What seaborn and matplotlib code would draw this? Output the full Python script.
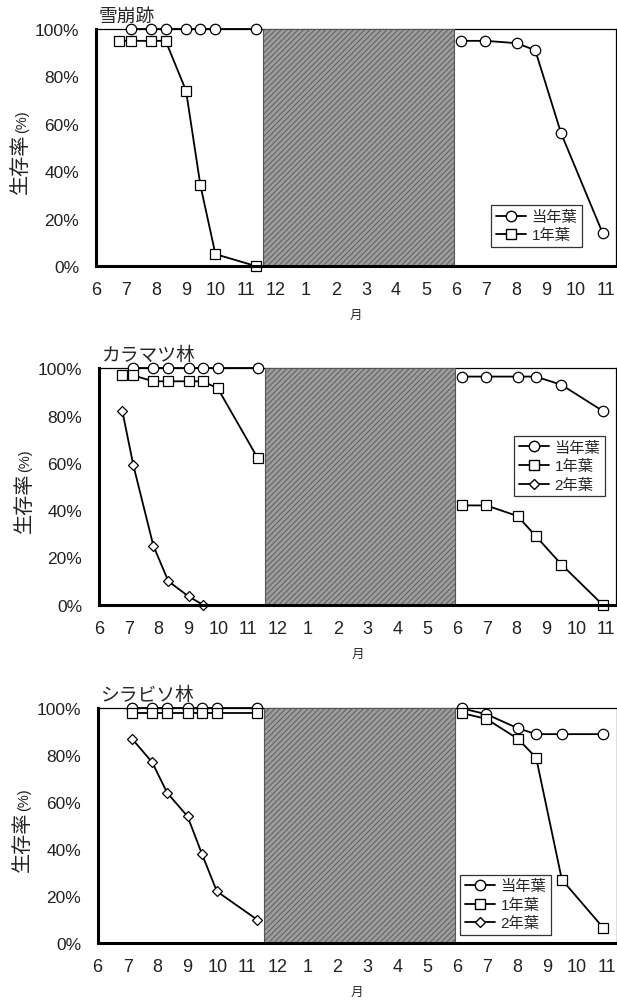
import numpy as np
import pandas as pd
import matplotlib
matplotlib.use('Agg')
import matplotlib.pyplot as plt
from matplotlib.lines import Line2D
import seaborn as sns

# --- data (x = months after the start of June, year 1) ---
month_labels = ['6', '7', '8', '9', '10', '11', '12', '1', '2', '3', '4', '5',
                '6', '7', '8', '9', '10', '11']
x_first = [0.78, 1.15, 1.82, 2.32, 3.0, 3.48, 3.98, 5.32]
x_second = [12.15, 12.98, 14.03, 14.64, 15.5, 16.88]

# 雪崩跡
a_cur_1 = [np.nan, 100, 100, 100, 100, 100, 100, 100]
a_y1_1 = [95, 95, 95, 95, 74, 34, 5, 0]
a_cur_2 = [95, 95, 94, 91, 56, 14]

# カラマツ林
b_cur_1 = [np.nan, 100, 100, 100, 100, 100, 100, 100]
b_y1_1 = [97, 97, 94.5, 94.5, 94.5, 94.5, 91.5, 62]
b_y2_1 = [82, 59, 25, 10, 3.5, 0, np.nan, np.nan]
b_cur_2 = [96.5, 96.5, 96.5, 96.5, 93, 82]
b_y1_2 = [42, 42, 37.5, 29, 17, 0]

# シラビソ林
c_cur_1 = [np.nan, 100, 100, 100, 100, 100, 100, 100]
c_y1_1 = [np.nan, 98, 98, 98, 98, 98, 98, 98]
c_y2_1 = [np.nan, 87, 77, 64, 54, 38, 22, 10]
c_cur_2 = [100, 97.5, 91.5, 89, 89, 89]
c_y1_2 = [98, 95.5, 87, 79, 27, 6.5]

series_names = ['当年葉', '1年葉', '2年葉']
series_markers = {'当年葉': 'o', '1年葉': 's', '2年葉': 'D'}
series_sizes = {'当年葉': 7.5, '1年葉': 7.5, '2年葉': 5.2}


def to_long(parts):
    rows = []
    for name, seg, xs, ys in parts:
        for x, y in zip(xs, ys):
            if not np.isnan(y):
                rows.append({'month': x, 'rate': y, 'series': name, 'seg': seg})
    return pd.DataFrame(rows)


panels = [
    ('雪崩跡', [0.1556, 0.7338, 0.8428, 0.2363], 2,
     [('当年葉', 0, x_first, a_cur_1), ('1年葉', 1, x_first, a_y1_1),
      ('当年葉', 2, x_second, a_cur_2)],
     (0.76, 0.08)),
    ('カラマツ林', [0.1605, 0.3961, 0.8380, 0.2357], 3,
     [('当年葉', 0, x_first, b_cur_1), ('1年葉', 1, x_first, b_y1_1),
      ('2年葉', 3, x_first, b_y2_1), ('当年葉', 2, x_second, b_cur_2),
      ('1年葉', 4, x_second, b_y1_2)],
     (0.803, 0.458)),
    ('シラビソ林', [0.1583, 0.0588, 0.8412, 0.2340], 3,
     [('当年葉', 0, x_first, c_cur_1), ('1年葉', 1, x_first, c_y1_1),
      ('2年葉', 3, x_first, c_y2_1), ('当年葉', 2, x_second, c_cur_2),
      ('1年葉', 4, x_second, c_y1_2)],
     (0.698, 0.034)),
]

sns.set_style('white')
plt.rcParams['font.family'] = ['Liberation Sans', 'Noto Sans CJK JP']
plt.rcParams['hatch.linewidth'] = 0.6
plt.rcParams['hatch.color'] = '#444444'

fig = plt.figure(figsize=(6.17, 10.03), dpi=100)

for title, rect, n_leg, parts, leg_pos in panels:
    ax = fig.add_axes(rect)
    df = to_long(parts)
    used = [s for s in series_names if s in df['series'].unique()]
    for s in used:
        sub = df[df['series'] == s]
        sns.lineplot(data=sub, x='month', y='rate', units='seg', estimator=None,
                     color='black', marker=series_markers[s], markersize=series_sizes[s],
                     markerfacecolor='white', markeredgecolor='black', markeredgewidth=0.9,
                     linewidth=1.3, clip_on=False, legend=False, ax=ax, zorder=3)

    # winter (no observation) period
    ax.axvspan(5.57, 11.93, facecolor='#9c9c9c', edgecolor='#555555', hatch='//////',
               linewidth=0.8, zorder=4)

    ax.set_xlim(0, 17.33)
    ax.set_ylim(0, 100)
    ax.set_xticks(range(len(month_labels)))
    ax.set_xticklabels(month_labels, fontsize=13)
    ax.set_yticks(range(0, 101, 20))
    ax.set_yticklabels([f'{v}%' for v in range(0, 101, 20)], fontsize=12.5)
    ax.tick_params(axis='x', direction='in', length=6, width=1.2, pad=11, colors='black')
    ax.tick_params(axis='y', direction='out', length=4, width=1.2, pad=8, colors='black')
    for lab in ax.get_xticklabels() + ax.get_yticklabels():
        lab.set_color('#222222')
    for side in ['left', 'bottom']:
        ax.spines[side].set_linewidth(2.2)
        ax.spines[side].set_color('black')
    for side in ['top', 'right']:
        ax.spines[side].set_linewidth(0.9)
        ax.spines[side].set_color('black')
    ax.spines['bottom'].set_zorder(5)
    ax.spines['left'].set_zorder(5)

    ax.set_xlabel('月', fontsize=9, labelpad=8)
    ax.set_ylabel('')
    # y label: large "生存率" and small "(%)"
    ax.text(-0.145, 0.435, '生存率', transform=ax.transAxes, rotation=90,
            fontsize=14.5, ha='center', va='center', color='#222222')
    ax.text(-0.142, 0.615, '(%)', transform=ax.transAxes, rotation=90,
            fontsize=10.5, ha='center', va='center', color='#222222')
    ax.text(0.005, 1.02, title, transform=ax.transAxes, fontsize=13.5,
            ha='left', va='bottom')

    handles = [Line2D([], [], color='black', marker=series_markers[s],
                      markersize=series_sizes[s], markerfacecolor='white',
                      markeredgecolor='black', linewidth=1.3)
               for s in series_names[:n_leg]]
    leg = ax.legend(handles, series_names[:n_leg], loc='lower left',
                    bbox_to_anchor=leg_pos, frameon=True, fancybox=False,
                    fontsize=11, handlelength=2.0, handletextpad=0.35,
                    borderpad=0.3, labelspacing=0.3, borderaxespad=0)
    leg.get_frame().set_edgecolor('black')
    leg.get_frame().set_linewidth(0.9)
    leg.set_zorder(6)

fig.savefig('out.png', dpi=100)
